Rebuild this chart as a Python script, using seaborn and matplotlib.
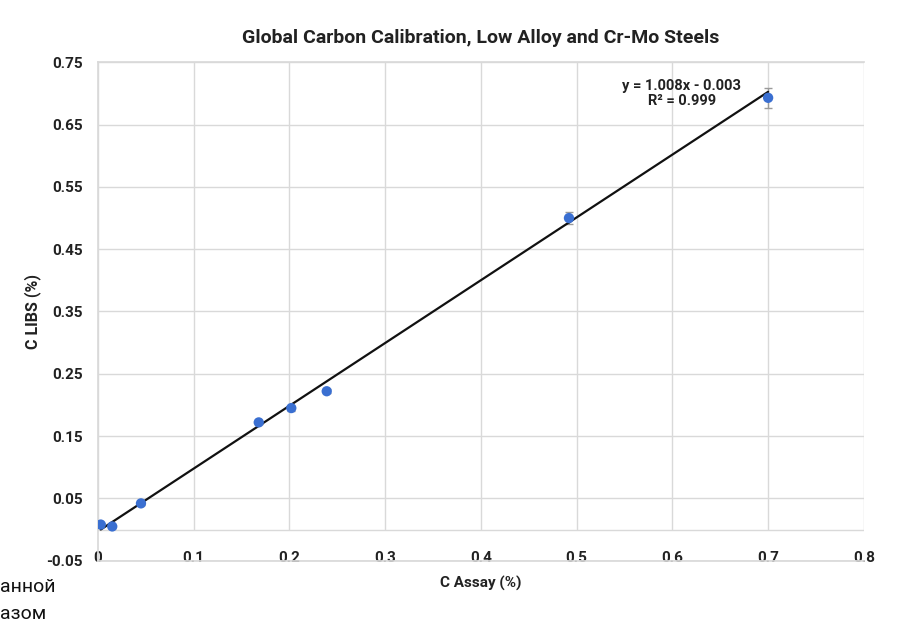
import numpy as np
import matplotlib
matplotlib.use("Agg")
import matplotlib.pyplot as plt
import seaborn as sns

# Du lieu doc tu hinh
c_assay = [0.003, 0.015, 0.045, 0.168, 0.202, 0.239, 0.492, 0.700]
c_libs = [0.008, 0.005, 0.042, 0.172, 0.195, 0.222, 0.500, 0.693]
c_err = [0.002, 0.002, 0.002, 0.003, 0.004, 0.003, 0.009, 0.016]
slope = 1.008
intercept = -0.003
r2 = 0.999

x_ticks = [0, 0.1, 0.2, 0.3, 0.4, 0.5, 0.6, 0.7, 0.8]
x_labels = ["0", "0.1", "0.2", "0.3", "0.4", "0.5", "0.6", "0.7", "0.8"]
y_ticks = [-0.05, 0.05, 0.15, 0.25, 0.35, 0.45, 0.55, 0.65, 0.75]

sns.set_theme(style="whitegrid")
plt.rcParams["font.family"] = ["Roboto", "DejaVu Sans"]

fig, ax = plt.subplots(figsize=(8.98, 6.23), dpi=100)
fig.subplots_adjust(left=0.109, right=0.962, top=0.9, bottom=0.1)

ax.errorbar(c_assay, c_libs, yerr=c_err, fmt="none", ecolor="#9a9a9a", elinewidth=1, capsize=3, zorder=2)
sns.scatterplot(x=c_assay, y=c_libs, ax=ax, color="#3a6fd1", s=55, edgecolor="none", zorder=3)

# duong xu huong theo phuong trinh
fit_x = np.array([min(c_assay), max(c_assay)])
ax.plot(fit_x, slope * fit_x + intercept, color="#111111", linewidth=1.6, zorder=2.5)

ax.text(0.61, 0.70, f"y = {slope:.3f}x - {abs(intercept):.3f}\nR² = {r2:.3f}",
        ha="center", va="center", fontsize=10.5, fontweight="bold", color="#222222", linespacing=1.05)

ax.set_xlim(0, 0.8)
ax.set_ylim(-0.05, 0.75)
ax.set_xticks(x_ticks)
ax.set_xticklabels(x_labels)
ax.set_yticks(y_ticks)
ax.set_yticklabels([f"{v:.2f}" for v in y_ticks])
ax.tick_params(axis="both", length=0, labelsize=11, colors="#222222")
ax.tick_params(axis="x", pad=-7)
ax.tick_params(axis="y", pad=11)
for lbl in ax.get_xticklabels() + ax.get_yticklabels():
    lbl.set_fontweight("bold")

# luoi ngang o cac vach y, luoi doc dung lai o truc y = 0 (kieu Excel)
ax.grid(True, axis="y", color="#d9d9d9", linewidth=1)
ax.grid(False, axis="x")
ax.vlines(x_ticks, 0, 0.75, color="#d9d9d9", linewidth=1, zorder=0.6)
ax.axhline(0, color="#d9d9d9", linewidth=1, zorder=0.6)
ax.spines["right"].set_visible(False)
for side in ["top", "left", "bottom"]:
    ax.spines[side].set_color("#d9d9d9")

ax.set_title("Global Carbon Calibration, Low Alloy and Cr-Mo Steels", fontsize=14, fontweight="bold", color="#222222", pad=14)
ax.set_xlabel("C Assay (%)", fontsize=11, fontweight="bold", color="#222222", labelpad=8)
ax.set_ylabel("C LIBS (%)", fontsize=11.5, fontweight="bold", color="#222222", labelpad=4)

# doan chu bi cat o goc trai duoi
fig.text(0.0, 0.05, "анной", fontsize=14, color="#111111")
fig.text(0.0, 0.006, "азом", fontsize=14, color="#111111")

plt.savefig("out.png", dpi=100)
